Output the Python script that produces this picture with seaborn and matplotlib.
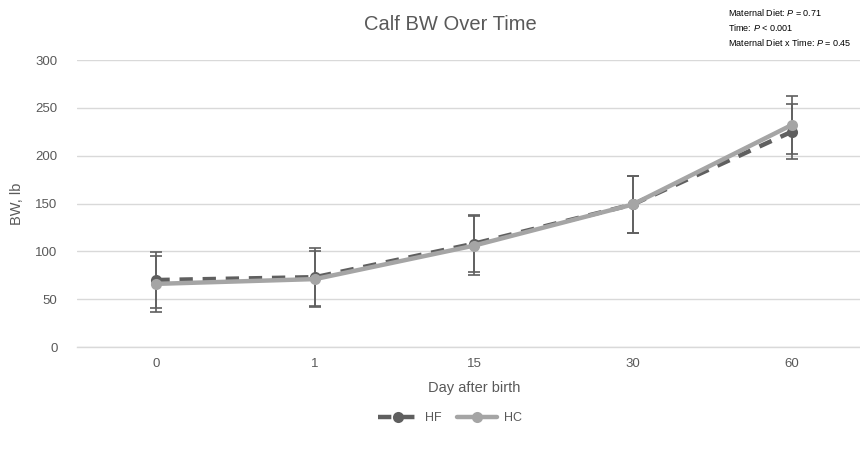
import matplotlib
matplotlib.use("Agg")
import matplotlib.pyplot as plt
import seaborn as sns
import pandas as pd
import numpy as np

days = ["0", "1", "15", "30", "60"]
hf_bw = [70, 73, 108, 149, 225]
hc_bw = [66, 71, 106, 149, 232]
hf_err = [29, 30, 30, 30, 29]
hc_err = [29, 29, 31, 30, 30]

sns.set_theme(style="white")
plt.rcParams['font.family'] = ['Liberation Sans', 'DejaVu Sans']
plt.rcParams['mathtext.fontset'] = 'custom'
plt.rcParams['mathtext.it'] = 'Liberation Sans:italic'
plt.rcParams['mathtext.rm'] = 'Liberation Sans'

txt = "#595959"
hf_col = "#5f5f5f"
hc_col = "#a5a5a5"

pos = np.arange(len(days))
df = pd.DataFrame({
    "pos": np.concatenate([pos, pos]),
    "BW": hf_bw + hc_bw,
    "Group": ["HF"] * len(days) + ["HC"] * len(days),
})

fig = plt.figure(figsize=(8.6, 4.49), dpi=100)
ax = fig.add_axes([77 / 860, (449 - 347) / 449, (871 - 77) / 860, (347 - 60) / 449])

# error bars
ax.errorbar(pos, hf_bw, yerr=hf_err, fmt="none", ecolor=hf_col, elinewidth=1.2,
            capsize=4, capthick=1.2, zorder=2)
ax.errorbar(pos, hc_bw, yerr=hc_err, fmt="none", ecolor=hf_col, elinewidth=1.2,
            capsize=4, capthick=1.2, zorder=2)

sns.lineplot(data=df[df.Group == "HF"], x="pos", y="BW", ax=ax, color=hf_col,
             linewidth=3.2, marker="o", markersize=8, markeredgewidth=0,
             linestyle=(0, (3, 2.2)), label="HF", zorder=3)
sns.lineplot(data=df[df.Group == "HC"], x="pos", y="BW", ax=ax, color=hc_col,
             linewidth=3.2, marker="o", markersize=8, markeredgewidth=0,
             label="HC", zorder=4)

ax.set_xlim(-0.5, len(days) - 0.5)
ax.set_ylim(0, 300)
ax.set_yticks(range(0, 301, 50))
ax.set_xticks(pos)
ax.set_xticklabels(days)
ax.tick_params(axis="both", length=0, labelsize=9.5, colors=txt)
ax.tick_params(axis="y", pad=14)
ax.tick_params(axis="x", pad=8)
ax.yaxis.grid(True, color="#d9d9d9", linewidth=1)
ax.xaxis.grid(False)
for s in ["top", "right", "left"]:
    ax.spines[s].set_visible(False)
ax.spines["bottom"].set_color("#d9d9d9")
ax.spines["bottom"].set_linewidth(1)

ax.set_xlabel("Day after birth", fontsize=10.5, color=txt, labelpad=8)
ax.set_ylabel("BW, lb", fontsize=10.5, color=txt, labelpad=8)

fig.text(450 / 860, 1 - 25 / 449, "Calf BW Over Time", ha="center", va="center",
         fontsize=14.5, color=txt)

ann_fs = 6.5
ann_x = 728 / 860
fig.text(ann_x, 1 - 13 / 449, "Maternal Diet: $\\it{P}$ = 0.71", fontsize=ann_fs,
         color="black", va="center", ha="left")
fig.text(ann_x, 1 - 27.5 / 449, "Time: $\\it{P}$ < 0.001", fontsize=ann_fs,
         color="black", va="center", ha="left")
fig.text(ann_x, 1 - 42 / 449, "Maternal Diet x Time: $\\it{P}$ = 0.45", fontsize=ann_fs,
         color="black", va="center", ha="left")

leg = ax.legend(loc="center", bbox_to_anchor=(450 / 860, 1 - 418 / 449),
                bbox_transform=fig.transFigure, ncol=2, frameon=False,
                fontsize=9, handlelength=3.2, columnspacing=1.2, handletextpad=0.6)
for t in leg.get_texts():
    t.set_color(txt)

fig.savefig("out.png", dpi=100)
